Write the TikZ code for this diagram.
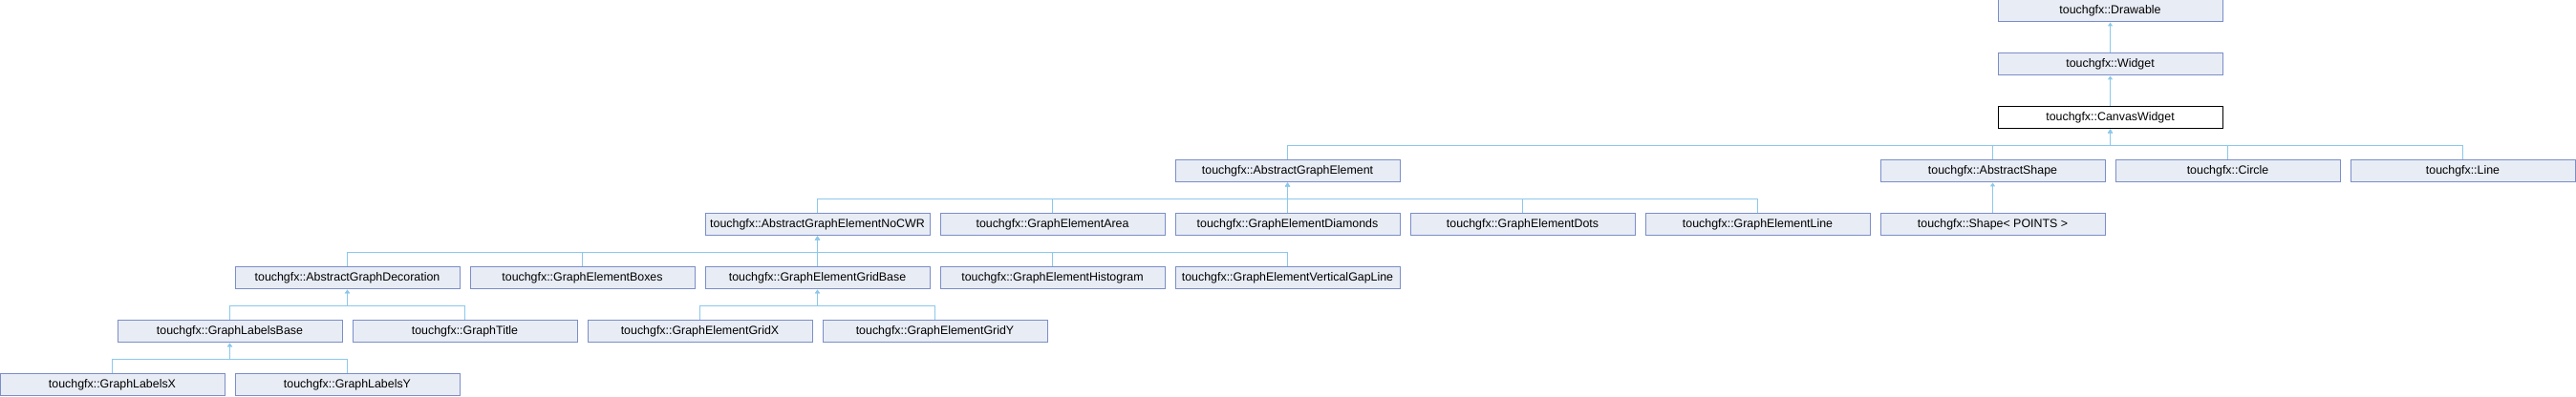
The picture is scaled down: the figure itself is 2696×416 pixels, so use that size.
\documentclass[tikz,border=0pt]{standalone}
\usepackage{fontspec}
\setmainfont{Liberation Sans}
\usetikzlibrary{arrows.meta}

\definecolor{boxfill}{RGB}{232,236,245}
\definecolor{boxline}{RGB}{123,142,200}
\definecolor{edgeblue}{RGB}{140,200,235}

\begin{document}
\begin{tikzpicture}[
    x=0.75pt, y=-0.75pt,
    inherit/.style={{Triangle[length=3pt,width=3.8pt]}-, draw=edgeblue, line width=0.75pt},
    cls/.style={
        rectangle,
        draw=boxline,
        fill=boxfill,
        line width=0.75pt,
        minimum width=176.25pt,
        minimum height=17.25pt,
        inner sep=0pt,
        font=\fontsize{9.3}{10}\selectfont
    },
    current/.style={cls, draw=black, fill=white}
]
\useasboundingbox (0,0) rectangle (2696,416);

% Nodes
\node[cls] (drawable) at (2208.5,11.5) {touchgfx::Drawable};
\node[cls] (widget) at (2208.5,67.5) {touchgfx::Widget};
\node[current] (canvas) at (2208.5,123.5) {touchgfx::CanvasWidget};

\node[cls] (age) at (1347.5,179.5) {touchgfx::AbstractGraphElement};
\node[cls] (ashape) at (2085.5,179.5) {touchgfx::AbstractShape};
\node[cls] (circle) at (2331.5,179.5) {touchgfx::Circle};
\node[cls] (line) at (2577.5,179.5) {touchgfx::Line};

\node[cls] (nocwr) at (855.5,235.5) {touchgfx::AbstractGraphElementNoCWR};
\node[cls] (area) at (1101.5,235.5) {touchgfx::GraphElementArea};
\node[cls] (diamonds) at (1347.5,235.5) {touchgfx::GraphElementDiamonds};
\node[cls] (dots) at (1593.5,235.5) {touchgfx::GraphElementDots};
\node[cls] (eline) at (1839.5,235.5) {touchgfx::GraphElementLine};
\node[cls] (shape) at (2085.5,235.5) {touchgfx::Shape< POINTS >};

\node[cls] (decoration) at (363.5,291.5) {touchgfx::AbstractGraphDecoration};
\node[cls] (boxes) at (609.5,291.5) {touchgfx::GraphElementBoxes};
\node[cls] (gridbase) at (855.5,291.5) {touchgfx::GraphElementGridBase};
\node[cls] (histogram) at (1101.5,291.5) {touchgfx::GraphElementHistogram};
\node[cls] (vgapline) at (1347.5,291.5) {touchgfx::GraphElementVerticalGapLine};

\node[cls] (labelsbase) at (240.5,347.5) {touchgfx::GraphLabelsBase};
\node[cls] (title) at (486.5,347.5) {touchgfx::GraphTitle};
\node[cls] (gridx) at (732.5,347.5) {touchgfx::GraphElementGridX};
\node[cls] (gridy) at (978.5,347.5) {touchgfx::GraphElementGridY};

\node[cls] (labelsx) at (117.5,403.5) {touchgfx::GraphLabelsX};
\node[cls] (labelsy) at (363.5,403.5) {touchgfx::GraphLabelsY};

% Edges (inheritance)
\draw[inherit] (drawable.south) -- (widget.north);
\draw[inherit] (widget.south) -- (canvas.north);

\foreach \kid in {age,ashape,circle,line}
    \draw[inherit] (canvas.south) -- ++(0,-12.75pt) -| (\kid.north);

\foreach \kid in {nocwr,area,diamonds,dots,eline}
    \draw[inherit] (age.south) -- ++(0,-12.75pt) -| (\kid.north);
\draw[inherit] (ashape.south) -- (shape.north);

\foreach \kid in {decoration,boxes,gridbase,histogram,vgapline}
    \draw[inherit] (nocwr.south) -- ++(0,-12.75pt) -| (\kid.north);

\foreach \kid in {labelsbase,title}
    \draw[inherit] (decoration.south) -- ++(0,-12.75pt) -| (\kid.north);
\foreach \kid in {gridx,gridy}
    \draw[inherit] (gridbase.south) -- ++(0,-12.75pt) -| (\kid.north);

\foreach \kid in {labelsx,labelsy}
    \draw[inherit] (labelsbase.south) -- ++(0,-12.75pt) -| (\kid.north);

\end{tikzpicture}
\end{document}
